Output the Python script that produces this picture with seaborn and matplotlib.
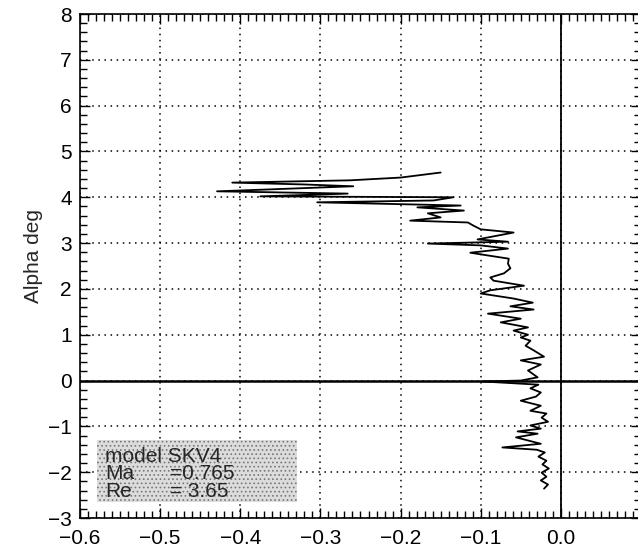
import numpy as np
import pandas as pd
import matplotlib
matplotlib.use('Agg')
import matplotlib.pyplot as plt
from matplotlib.ticker import MultipleLocator
from matplotlib.patches import Rectangle
import seaborn as sns

# wspolczynnik (os x) i kat natarcia (os y), od dolu do gory
coef = [-0.021, -0.016, -0.025, -0.018, -0.024, -0.015, -0.023, -0.018, -0.028, -0.020,
        -0.030, -0.073, -0.025, -0.056, -0.029, -0.054, -0.025, -0.038, -0.016, -0.024,
        -0.018, -0.038, -0.025, -0.050, -0.031, -0.025, -0.038, -0.028, -0.098, -0.050,
        -0.029, -0.041, -0.025, -0.050, -0.021, -0.034, -0.044, -0.038, -0.050, -0.041,
        -0.059, -0.041, -0.075, -0.050, -0.091, -0.034, -0.063, -0.035, -0.059, -0.100,
        -0.088, -0.046, -0.084, -0.088, -0.071, -0.063, -0.066, -0.065, -0.091, -0.113,
        -0.066, -0.100, -0.166, -0.066, -0.104, -0.059, -0.100, -0.109, -0.116, -0.188,
        -0.150, -0.166, -0.121, -0.179, -0.125, -0.304, -0.159, -0.134, -0.375, -0.266,
        -0.429, -0.366, -0.259, -0.321, -0.410, -0.263, -0.200, -0.150]
alpha = [-2.36, -2.27, -2.18, -2.10, -2.01, -1.92, -1.83, -1.75, -1.66, -1.57,
         -1.51, -1.46, -1.38, -1.24, -1.16, -1.11, -1.05, -0.98, -0.90, -0.81,
         -0.72, -0.66, -0.55, -0.44, -0.35, -0.26, -0.17, -0.09, -0.02, 0.00,
         0.07, 0.22, 0.35, 0.44, 0.52, 0.66, 0.76, 0.87, 0.94, 1.00,
         1.09, 1.16, 1.27, 1.35, 1.46, 1.55, 1.62, 1.70, 1.79, 1.90,
         1.97, 2.07, 2.18, 2.25, 2.34, 2.45, 2.55, 2.66, 2.73, 2.79,
         2.88, 2.95, 2.99, 3.03, 3.08, 3.23, 3.30, 3.38, 3.45, 3.49,
         3.56, 3.65, 3.71, 3.78, 3.82, 3.89, 3.93, 4.00, 4.02, 4.08,
         4.13, 4.17, 4.24, 4.28, 4.32, 4.37, 4.43, 4.54]

legend_lines = ['model SKV4', 'Ma', 'Re']
legend_vals = ['', '=0.765', '= 3.65']
xtick_vals = [-0.6, -0.5, -0.4, -0.3, -0.2, -0.1, 0.0]
xtick_labels = ['\u22120.6', '\u22120.5', '\u22120.4', '\u22120.3', '\u22120.2', '\u22120.1', '0.0']

df = pd.DataFrame({'coef': coef, 'alpha': alpha})

sns.set_style('ticks')
plt.rcParams['font.family'] = ['Liberation Sans', 'DejaVu Sans']
plt.rcParams['hatch.linewidth'] = 0.7

fig = plt.figure(figsize=(6.38, 5.48), dpi=100)
ax = fig.add_axes([80 / 638, 30 / 548, 561 / 638, 504 / 548])

ax.grid(True, which='major', linestyle=(0, (1, 3)), color='black', linewidth=1.1)
ax.axhline(0, color='black', linewidth=1.8, zorder=3)
ax.axvline(0, color='black', linewidth=1.3, zorder=3)

sns.lineplot(data=df, x='coef', y='alpha', sort=False, estimator=None,
             color='black', linewidth=1.3, ax=ax, zorder=4)

ax.set_xlim(-0.6, 0.1)
ax.set_ylim(-3, 8)
ax.xaxis.set_minor_locator(MultipleLocator(0.01))
ax.yaxis.set_major_locator(MultipleLocator(1))
ax.yaxis.set_minor_locator(MultipleLocator(0.2))
ax.set_xticks(xtick_vals)
ax.set_xticklabels(xtick_labels)
ax.tick_params(which='both', direction='in', top=True, right=True, colors='black',
               labelsize=15)
ax.tick_params(which='major', length=7, width=1)
ax.tick_params(which='minor', length=5, width=1)
ax.tick_params(axis='x', pad=8)
ax.tick_params(axis='y', pad=6)
ax.set_xlabel('')
ax.set_ylabel('Alpha deg', fontsize=15)
ax.yaxis.set_label_coords(-0.066, 0.52)
for s in ax.spines.values():
    s.set_color('black')
    s.set_linewidth(1.2)

# szara ramka z opisem modelu (tlo + kropkowanie)
box = Rectangle((0.030, 0.032), 0.357, 0.123, transform=ax.transAxes,
                facecolor='#dcdcdc', edgecolor='none', zorder=5)
ax.add_patch(box)
dots = Rectangle((0.030, 0.032), 0.357, 0.123, transform=ax.transAxes,
                 fill=False, edgecolor='#777777', linewidth=0, hatch='....', zorder=5)
ax.add_patch(dots)
ys = [0.123, 0.088, 0.053]
for name, val, y in zip(legend_lines, legend_vals, ys):
    ax.text(0.045, y, name, transform=ax.transAxes, fontsize=15, va='center', zorder=6)
    if val:
        ax.text(0.16, y, val, transform=ax.transAxes, fontsize=15, va='center', zorder=6)

fig.savefig('out.png', dpi=100)
